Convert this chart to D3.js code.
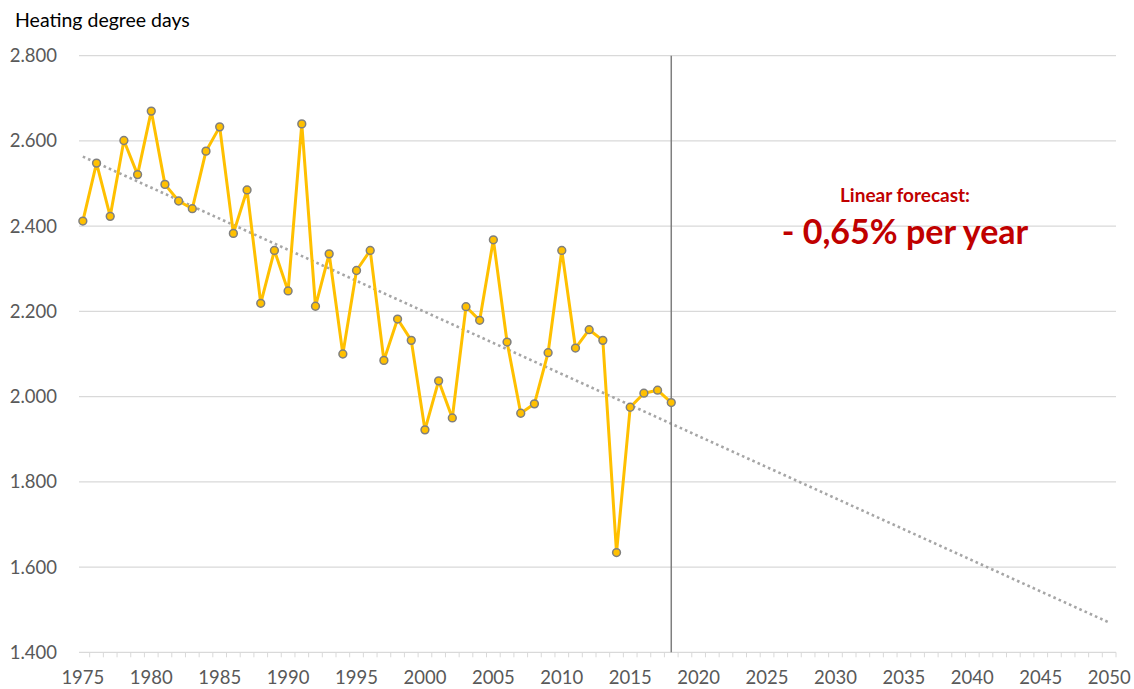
<!DOCTYPE html>
<html>
<head>
<meta charset="utf-8">
<script src="https://cdn.jsdelivr.net/npm/d3@7"></script>
<style>
  body { margin: 0; background: #fff; }
  svg { font-family: Lato, "Open Sans", sans-serif; }
</style>
</head>
<body>
<svg id="chart" width="1134" height="689"></svg>
<script>
// observed heating degree days, 1975..2018
const years = d3.range(1975, 2019)
const hdd = [2412, 2548, 2423, 2601, 2521, 2670, 2498, 2459, 2441, 2576,
	2633, 2383, 2485, 2219, 2343, 2248, 2640, 2212, 2335, 2100,
	2296, 2343, 2085, 2182, 2132, 1922, 2037, 1950, 2211, 2179,
	2368, 2128, 1961, 1983, 2103, 2343, 2114, 2157, 2132, 1634,
	1975, 2008, 2015, 1986]
const axisYears = d3.range(1975, 2051)   // category axis runs to 2050
const yTicks = [1400, 1600, 1800, 2000, 2200, 2400, 2600, 2800]
const cutYear = 2018

const svg = d3.select('#chart')
const plotLeft = 76, plotRight = 1116, plotTop = 55.7, plotBottom = 652.3

const x = d3.scaleBand().domain(axisYears).range([plotLeft, plotRight]).padding(0)
const cx = yr => x(yr) + x.bandwidth() / 2
const y = d3.scaleLinear().domain([1400, 2800]).range([plotBottom, plotTop])
const fmt = v => d3.format(',')(v).replace(',', '.')

// gridlines
svg.append('g').selectAll('line').data(yTicks).join('line')
	.attr('x1', 79).attr('x2', plotRight)
	.attr('y1', d => y(d)).attr('y2', d => y(d))
	.attr('stroke', '#d9d9d9').attr('stroke-width', 1.2)

// y labels
svg.append('g').selectAll('text').data(yTicks).join('text')
	.attr('x', 57).attr('y', d => y(d)).attr('dy', '0.35em')
	.attr('text-anchor', 'end').attr('font-size', 18.5).attr('fill', '#595959')
	.text(fmt)

// x axis ticks between categories
const bounds = axisYears.map(d => x(d)).concat([plotRight]).filter(d => d >= 79)
svg.append('g').selectAll('line').data(bounds).join('line')
	.attr('x1', d => d).attr('x2', d => d)
	.attr('y1', plotBottom).attr('y2', plotBottom + 5)
	.attr('stroke', '#d9d9d9').attr('stroke-width', 1)

svg.append('g').selectAll('text').data(axisYears.filter(d => d % 5 === 0)).join('text')
	.attr('x', d => cx(d)).attr('y', 684)
	.attr('text-anchor', 'middle').attr('font-size', 18.5).attr('fill', '#595959')
	.text(d => d)

svg.append('text').attr('x', 15).attr('y', 27)
	.attr('font-size', 19.5).attr('fill', '#000')
	.text('Heating degree days')

// linear trend (least squares on the observed years), extended to 2050
const mx = d3.mean(years), my = d3.mean(hdd)
const slope = d3.sum(years, (d, i) => (d - mx) * (hdd[i] - my)) / d3.sum(years, d => (d - mx) ** 2)
const trend = yr => my + slope * (yr - mx)
svg.append('line')
	.attr('x1', cx(1975)).attr('y1', y(trend(1975)))
	.attr('x2', cx(2050)).attr('y2', y(trend(2050)))
	.attr('stroke', '#a6a6a6').attr('stroke-width', 2.6)
	.attr('stroke-dasharray', '2.6 3.1')

// cut-off marker at the last observed year
svg.append('line')
	.attr('x1', cx(cutYear)).attr('x2', cx(cutYear))
	.attr('y1', plotTop).attr('y2', plotBottom)
	.attr('stroke', '#7f7f7f').attr('stroke-width', 1.5)

const line = d3.line().x((d, i) => cx(years[i])).y(d => y(d))
svg.append('path').datum(hdd)
	.attr('d', line).attr('fill', 'none')
	.attr('stroke', '#ffc000').attr('stroke-width', 3).attr('stroke-linejoin', 'round')

svg.append('g').selectAll('circle').data(hdd).join('circle')
	.attr('cx', (d, i) => cx(years[i])).attr('cy', d => y(d))
	.attr('r', 3.9).attr('fill', '#ffc000')
	.attr('stroke', '#7f7f7f').attr('stroke-width', 1.5)

// annotation
svg.append('text').attr('x', 905).attr('y', 202)
	.attr('text-anchor', 'middle').attr('font-size', 19).attr('font-weight', 'bold')
	.attr('fill', '#c00000').text('Linear forecast:')
svg.append('text').attr('x', 905).attr('y', 244)
	.attr('text-anchor', 'middle').attr('font-size', 34).attr('font-weight', 'bold')
	.attr('fill', '#c00000').text('- 0,65% per year')
</script>
</body>
</html>
